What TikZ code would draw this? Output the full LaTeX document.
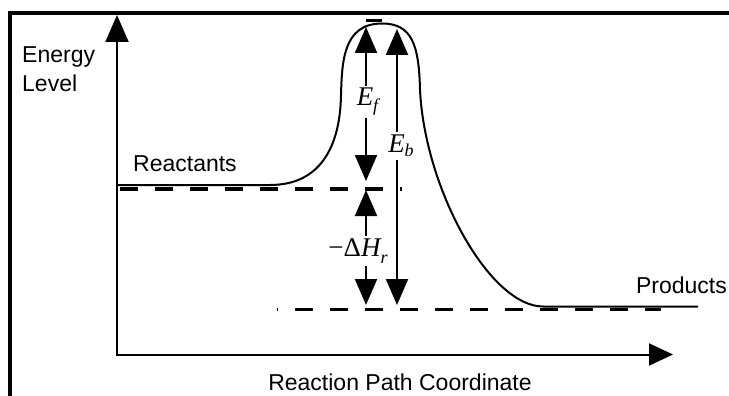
\documentclass[tikz,border=0pt]{standalone}
\usepackage{fontspec}
\setmainfont{Liberation Sans}
\newfontfamily\tnr{Liberation Serif}
\usetikzlibrary{arrows.meta}
\begin{document}
\begin{tikzpicture}[x=1pt,y=-1pt,
  lab/.style={font=\fontsize{23}{27}\selectfont, inner sep=0pt},
  mlab/.style={font=\tnr\fontsize{27}{30}\selectfont, fill=white, inner sep=2.5pt},
  axisline/.style={line width=2pt, line join=miter},
  curveline/.style={line width=2pt},
  dimarrow/.style={line width=2pt, {Triangle[width=22pt,length=26pt]}-{Triangle[width=22pt,length=26pt]}},
  lvldash/.style={line width=3.5pt, dash pattern=on 17.5pt off 17.5pt},
  frameline/.style={line width=4pt, line join=miter}]
\useasboundingbox (0,0) rectangle (729,396);
% frame
\draw[frameline] (10,400) -- (10,13.5) -- (733,13.5);
% axes
\coordinate (O) at (117,354.5);
\coordinate (Ytip) at (117,15);
\coordinate (Xtip) at (673,354.5);
\draw[axisline, {Triangle[width=23pt,length=27pt]}-{Triangle[width=22pt,length=24pt]}] (Ytip) -- (O) -- (Xtip);
% level dashes
\coordinate (RdA) at (120,189);
\coordinate (RdB) at (402,189);
\draw[lvldash] (RdA) -- (RdB);
\coordinate (PdA) at (276.5,309.5);
\coordinate (PdB) at (661,309.5);
\draw[lvldash, dash phase=16.5pt] (PdA) -- (PdB);
\coordinate (TdA) at (366,20.5);
\coordinate (TdB) at (382,20.5);
\draw[line width=2.5pt] (TdA) -- (TdB);
% energy curve
\draw[curveline] (117,185) -- (270,185)
  .. controls (318,185) and (340,150) .. (341,95)
  .. controls (342,62) and (343,23.5) .. (382,23.5)
  .. controls (412,23.5) and (419,45) .. (420,90)
  .. controls (425,190) and (490,306.5) .. (543,306.5)
  -- (698,306.5);
% dimension arrows
\coordinate (EfTop) at (366,27);
\coordinate (EfBot) at (366,181);
\coordinate (DhTop) at (366,190);
\coordinate (DhBot) at (366,305);
\coordinate (EbTop) at (397,29);
\coordinate (EbBot) at (397,305);
\draw[dimarrow] (EfBot) -- (EfTop);
\draw[dimarrow] (DhTop) -- (DhBot);
\draw[dimarrow] (EbBot) -- (EbTop);
% math labels
\node[mlab, anchor=base] (ef) at (367.5,106) {\itshape E\raisebox{-6pt}{\fontsize{18}{18}\selectfont f}};
\node[mlab, anchor=base] (eb) at (401,152) {\itshape E\raisebox{-5pt}{\fontsize{18}{18}\selectfont b}};
\node[mlab, anchor=base] (dh) at (358,256) {−Δ{\itshape H\raisebox{-7pt}{\fontsize{18}{18}\selectfont r}}};
% text labels
\node[lab, anchor=base west] (energy) at (22,63) {Energy};
\node[lab, anchor=base west] (level) at (22,92) {Level};
\node[lab, anchor=base west] (reactants) at (133,171) {Reactants};
\node[lab, anchor=base east] (products) at (727,293) {Products};
\node[lab, anchor=base] (xlabel) at (400,390) {Reaction Path Coordinate};
\end{tikzpicture}
\end{document}
